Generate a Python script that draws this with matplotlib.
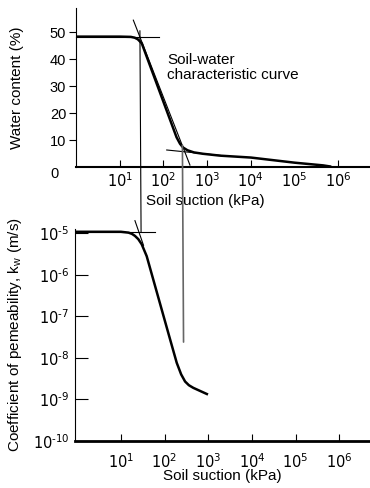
import matplotlib
matplotlib.use('Agg')
import matplotlib.pyplot as plt
import numpy as np
from matplotlib.patches import ConnectionPatch

plt.rcParams['font.family'] = ['Liberation Sans', 'DejaVu Sans']

# soil-water characteristic curve (suction kPa, water content %)
swcc_suction = [1, 10, 18, 22, 26, 32, 200, 240, 282, 355, 500, 800, 1990, 10000, 100000, 450000, 650000]
swcc_water = [48.3, 48.3, 48.2, 47.9, 47.3, 45.8, 11.0, 8.6, 7.2, 6.2, 5.4, 4.9, 4.2, 3.5, 1.6, 0.6, 0.2]
# tangent lines of the SWCC
tan_sat_x = [1, 80]
tan_sat_y = [48.3, 48.3]
tan_steep_x = [20.5, 405]
tan_steep_y = [54.4, 0.7]
tan_res_x = [119, 2000]
tan_res_y = [6.3, 4.3]

# permeability function (suction kPa, k_w m/s)
k_suction = [1, 10, 15, 18, 21, 25, 30, 39, 79, 135, 190, 240, 295, 360, 455, 930]
k_values = [1.08e-5, 1.08e-5, 1.03e-5, 9.6e-6, 8.6e-6, 7.2e-6, 5.4e-6, 2.8e-6, 2.0e-7,
            2.7e-8, 7.6e-9, 4.0e-9, 2.7e-9, 2.2e-9, 1.9e-9, 1.35e-9]
ktan_sat_x = [1, 62]
ktan_sat_y = [1.08e-5, 1.08e-5]
ktan_steep_x = [21, 33]
ktan_steep_y = [2.0e-5, 5.1e-6]

# projection lines (air-entry value and residual suction)
aev = 29
aev_top, aev_bot = 50.5, 1.08e-5
res = 272
res_top, res_bot = 8.1, 2.4e-8

xticks = [1e1, 1e2, 1e3, 1e4, 1e5, 1e6]
xticklabels = ['$10^{1}$', '$10^{2}$', '$10^{3}$', '$10^{4}$', '$10^{5}$', '$10^{6}$']
kticks = [1e-10, 1e-9, 1e-8, 1e-7, 1e-6, 1e-5]
kticklabels = ['$10^{\\text{-10}}$', '$10^{\\text{-9}}$', '$10^{\\text{-8}}$',
               '$10^{\\text{-7}}$', '$10^{\\text{-6}}$', '$10^{\\text{-5}}$']

fig = plt.figure(figsize=(3.7, 4.88), dpi=100)
ax1 = fig.add_axes([0.2054, 0.6578, 0.795, 0.3258])
ax2 = fig.add_axes([0.2027, 0.0963, 0.797, 0.4344])

for ax in (ax1, ax2):
    ax.spines['top'].set_visible(False)
    ax.spines['right'].set_visible(False)
    ax.spines['left'].set_linewidth(0.8)
    ax.set_xscale('log')
    ax.set_xticks(xticks)
    ax.set_xticklabels(xticklabels)
    ax.minorticks_off()
    ax.tick_params(axis='x', direction='in', length=5, width=0.8, labelsize=10.5)
    ax.patch.set_alpha(0)
ax1.set_xlim(1, 10**6.73)
ax2.set_xlim(10**-0.05, 10**6.7)

# --- top: SWCC
ax1.spines['bottom'].set_linewidth(1.5)
ax1.plot(swcc_suction, swcc_water, 'k-', lw=1.8)
ax1.plot(tan_sat_x, tan_sat_y, 'k-', lw=0.8, clip_on=False)
ax1.plot(tan_steep_x, tan_steep_y, 'k-', lw=0.8, clip_on=False)
ax1.plot(tan_res_x, tan_res_y, 'k-', lw=0.8, clip_on=False)
ax1.set_ylim(0, 58.9)
ax1.set_yticks([10, 20, 30, 40, 50])
ax1.tick_params(axis='y', direction='out', length=5, width=0.8, labelsize=10.5, pad=2)
ax1.tick_params(axis='x', pad=3)
ax1.xaxis.get_major_ticks()[4].tick1line.set_visible(False)
ax1.text(-0.072, -0.045, '0', transform=ax1.transAxes, fontsize=10.5, ha='center', va='center')
ax1.set_ylabel('Water content (%)', fontsize=11)
ax1.yaxis.set_label_coords(-0.177, 0.5)
ax1.set_xlabel('Soil suction (kPa)', fontsize=11)
ax1.xaxis.set_label_coords(0.44, -0.17)
ax1.text(0.31, 0.72, 'Soil-water\ncharacteristic curve', transform=ax1.transAxes,
         fontsize=11, ha='left', va='top', linespacing=1.1)

# --- bottom: permeability
ax2.spines['bottom'].set_linewidth(2)
ax2.set_yscale('log')
ax2.set_ylim(1e-10, 10**-4.9)
ax2.set_yticks(kticks)
ax2.set_yticklabels(kticklabels)
ax2.minorticks_off()
ax2.tick_params(axis='y', direction='in', length=9, width=0.8, labelsize=10.5, pad=4)
ax2.tick_params(axis='x', pad=8)
ax2.plot(k_suction, k_values, 'k-', lw=1.8)
ax2.plot(ktan_sat_x, ktan_sat_y, 'k-', lw=0.8, clip_on=False)
ax2.plot(ktan_steep_x, ktan_steep_y, 'k-', lw=0.8, clip_on=False)
ax2.set_ylabel('Coefficient of pemeability, k$_\\mathregular{w}$ (m/s)', fontsize=11)
ax2.yaxis.set_label_coords(-0.173, 0.5)
ax2.set_xlabel('Soil suction (kPa)', fontsize=11, labelpad=-1)

# projection lines from the SWCC down to the permeability function
con1 = ConnectionPatch(xyA=(aev, aev_top), coordsA=ax1.transData,
                       xyB=(aev, aev_bot), coordsB=ax2.transData,
                       color='k', lw=0.8)
con2 = ConnectionPatch(xyA=(res, res_top), coordsA=ax1.transData,
                       xyB=(res, res_bot), coordsB=ax2.transData,
                       color='#666666', lw=1.2)
fig.add_artist(con1)
fig.add_artist(con2)

fig.savefig('out.png', dpi=100)
